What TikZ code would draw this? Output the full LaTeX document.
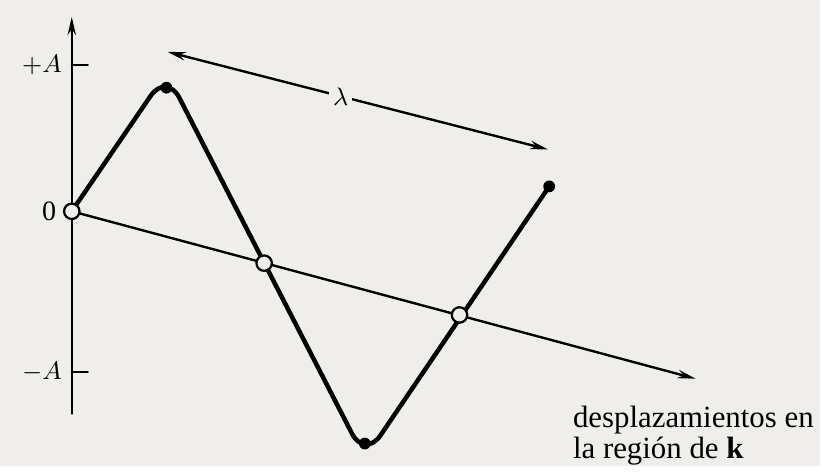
\documentclass[tikz,border=0pt]{standalone}
\usepackage{fontspec}
\setmainfont{Liberation Serif}
\usetikzlibrary{arrows.meta}
\definecolor{paper}{RGB}{239,238,234}
\begin{document}
\begin{tikzpicture}[x=0.0125cm, y=-0.0125cm, font=\small, line join=round, line cap=round, >={Stealth[length=6.5pt,width=3pt]},
	axis/.style={line width=0.85pt},
	wave/.style={line width=1.6pt, rounded corners=10pt},
	hollow/.style={circle, draw, line width=0.8pt, fill=paper, inner sep=0pt, minimum size=5.5pt},
	solid/.style={circle, fill, inner sep=0pt, minimum size=4.2pt}]
	\fill[paper] (0,0) rectangle (823,468);
	\coordinate (top) at (72,17); \coordinate (bot) at (72,415);
	\coordinate (O) at (72,212); \coordinate (axend) at (698,380);
	\coordinate (pA) at (72,65); \coordinate (mA) at (72,373);
	\coordinate (peakc) at (167,73); \coordinate (troughc) at (366,460);
	\coordinate (peak) at (167,88); \coordinate (trough) at (366,445); \coordinate (wend) at (551,187);
	\coordinate (z1) at (265,264); \coordinate (z2) at (461,316);
	\coordinate (lamL) at (168,52); \coordinate (lamR) at (550,150);
	\draw[axis,->] (bot) -- (top);
	\draw[axis] (pA) -- ++(16,0);
	\draw[axis] (mA) -- ++(16,0);
	\node at (pA) [left]{$+A$};
	\node at (mA) [left]{$-A$};
	\draw[axis,->] (O) -- (axend);
	\draw[wave] (O) -- (peakc) -- (troughc) -- (wend);
	\draw[axis,<->] (lamL) -- (lamR) node[pos=0.455, fill=paper, inner sep=1.5pt] (lam) {$\lambda$};
	\node[solid] (top1) at (peak) {};
	\node[solid] (bot1) at (trough) {};
	\node[solid] (end1) at (wend) {};
	\node[hollow] (zero) at (O) {};
	\node[hollow] (cross1) at (z1) {};
	\node[hollow] (cross2) at (z2) {};
	\node[left=2pt, font=\normalsize] (zlab) at (O) {0};
	\node[anchor=north west, align=left, font=\fontsize{11}{9.8}\selectfont] (lbl) at (565,398)
		{desplazamientos en\\la región de $\mathbf{k}$};
\end{tikzpicture}
\end{document}
